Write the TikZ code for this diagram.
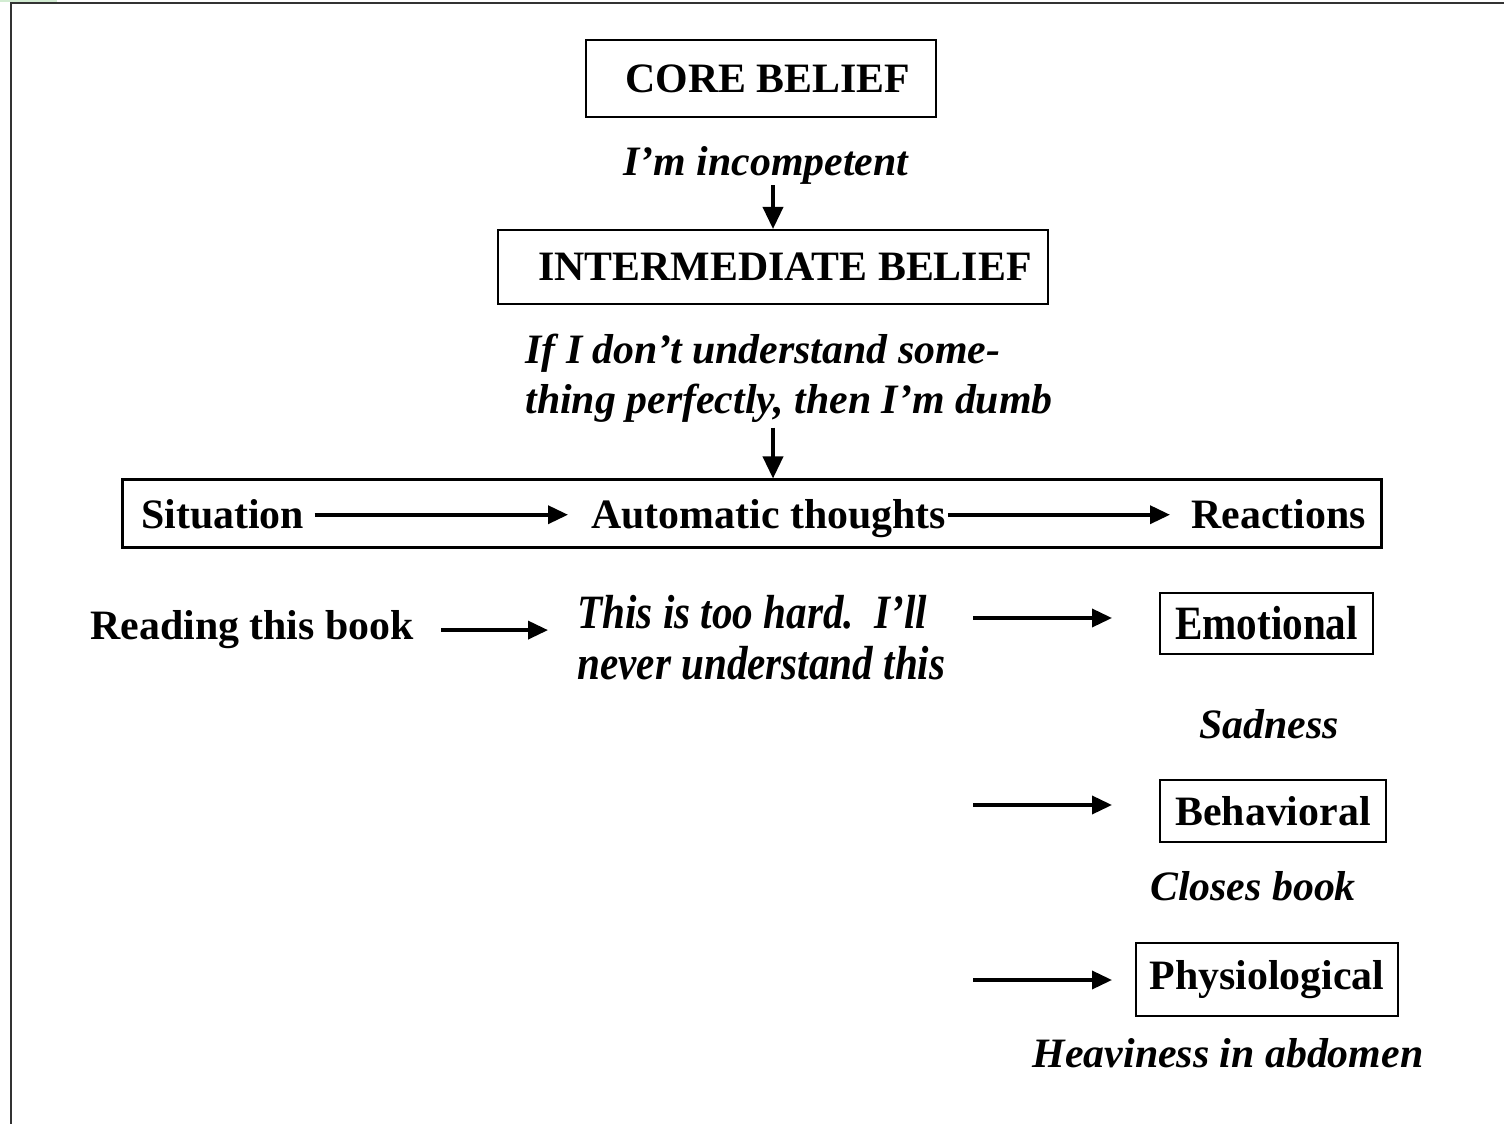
\documentclass[tikz,border=0pt]{standalone}
\usepackage{fontspec}
\setmainfont{Liberation Serif}
\newfontfamily\narrowserif[FakeStretch=0.86]{Liberation Serif}
\usetikzlibrary{arrows.meta,positioning}

\tikzset{
  beliefbox/.style={draw=black, line width=1bp, inner sep=0pt, font=\fontsize{21}{25}\selectfont\bfseries},
  plain/.style={inner sep=0pt, font=\fontsize{21}{25}\selectfont\bfseries},
  thought/.style={inner sep=0pt, align=left, font=\fontsize{21}{25}\selectfont\bfseries\itshape},
  narrow/.style={font=\fontsize{24}{25.5}\selectfont\narrowserif\bfseries},
  flow/.style={-{Triangle[length=10bp,width=9bp]}, line width=1.8bp},
  down/.style={-{Triangle[length=11bp,width=10bp]}, line width=1.8bp},
}

\begin{document}
\begin{tikzpicture}[x=0.5bp, y=-0.5bp]
    \useasboundingbox (0,0) rectangle (1504,1124);
    % page frame
    \fill[green!40!gray!25] (0,0) rectangle (57,2);
    \draw[line width=1bp, black!80] (10.5,1124) -- (10.5,3.5) -- (1504,3.5);

    % Define nodes
    \node[beliefbox, minimum width=175bp, minimum height=38.5bp] (core) at (761,78.5) {\hspace*{7bp}CORE BELIEF};
    \node[thought, anchor=base] (incomp) at (766,176) {I’m incompetent};
    \node[beliefbox, minimum width=275bp, minimum height=37bp] (inter) at (773,267) {\hspace*{12bp}INTERMEDIATE BELIEF};
    \node[thought, anchor=west] (rule) at (525,378) {If I don’t understand some-\\thing perfectly, then I’m dumb};

    \node[draw, line width=1.5bp, minimum width=629bp, minimum height=34bp] (frame) at (752,514) {};
    \node[plain, anchor=base west] (sit) at (141,529) {Situation};
    \node[plain, anchor=base west] (auto) at (591,529) {Automatic thoughts};
    \node[plain, anchor=base west] (react) at (1191,529) {Reactions};

    \node[plain, anchor=base west] (read) at (90,640) {Reading this book};
    \node[thought, narrow, anchor=west] (hard) at (577,638) {\itshape This is too hard.\ \ I’ll\\\itshape never understand this};

    \node[beliefbox, narrow, minimum width=106.5bp, minimum height=30.5bp] (emo) at (1266.5,623.5) {Emotional};
    \node[thought, anchor=base] (sad) at (1269,739) {Sadness};
    \node[beliefbox, minimum width=113bp, minimum height=31bp] (beh) at (1273,811) {Behavioral};
    \node[thought, anchor=base] (close) at (1253,900) {Closes book};
    \node[beliefbox, minimum width=131bp, minimum height=36.5bp] (phys) at (1267,979.5) {Physiological};
    \node[thought, anchor=base] (heavy) at (1228,1067) {Heaviness in abdomen};

    % free starts of the reaction arrows
    \coordinate (toemo) at (973,618);
    \coordinate (tobeh) at (973,805);
    \coordinate (tophys) at (973,980);

    % Down arrows
    \draw[down] (inter.north |- incomp.south) -- (inter.north);
    \draw[down, shorten <=2.5bp] (inter.south |- rule.south) -- (inter.south |- frame.north);

    % Arrows in the frame
    \draw[flow, shorten <=5bp, shorten >=11.5bp] (sit.east) -- (sit.east -| auto.west);
    \draw[flow, shorten <=1bp, shorten >=10.5bp] (auto.east |- sit.east) -- (react.west |- sit.east);

    % Example row
    \draw[flow, shorten <=13.5bp, shorten >=14.5bp] (read.east) -- (read.east -| hard.west);
    \draw[flow, shorten >=23.5bp] (toemo) -- (toemo -| emo.west);
    \draw[flow, shorten >=23.5bp] (tobeh) -- (tobeh -| beh.west);
    \draw[flow, shorten >=11.5bp] (tophys) -- (tophys -| phys.west);
\end{tikzpicture}
\end{document}
